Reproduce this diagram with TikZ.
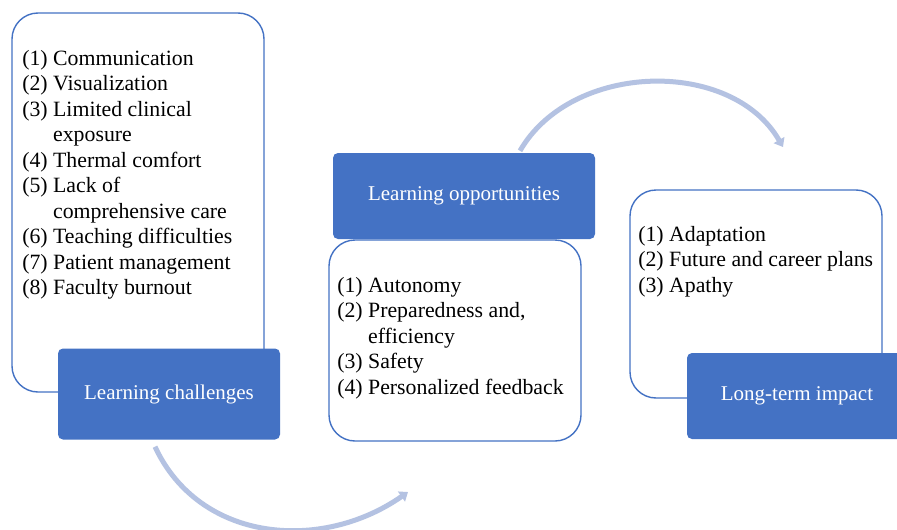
\documentclass[tikz,border=0pt]{standalone}
\usepackage{fontspec}
\setmainfont{Liberation Serif}
\usetikzlibrary{positioning,arrows.meta}
\definecolor{headBlue}{HTML}{4472C4}
\definecolor{cycleBlue}{HTML}{B4C2E2}
% hanging indent for wrapped list lines
\newcommand{\wrapline}{\phantom{(0)}\ }

\begin{document}
\begin{tikzpicture}[x=1pt, y=1pt,
    listbox/.style={draw=headBlue, line width=1.4pt, fill=white, rounded corners=26pt, minimum width=252pt},
    headbox/.style={fill=headBlue, rounded corners=5pt, text=white, minimum height=86pt, font=\fontsize{21}{25.5}\selectfont},
    items/.style={align=left, inner sep=0pt, outer sep=0pt, font=\fontsize{21.8}{25.5}\selectfont},
    cyclearrow/.style={cycleBlue, line width=5pt, -{Triangle[length=8pt,width=12pt]}}]
    \clip (0,0) rectangle (897,-530);
    \fill[white] (0,0) rectangle (897,-530);

    % outlined boxes
    \node[listbox, minimum height=379pt] (challengeBox) at (138,-202.5) {};
    \node[listbox, minimum height=201pt] (opportunityBox) at (455,-340.5) {};
    \node[listbox, minimum height=208pt] (impactBox) at (756,-294) {};

    % filled headings
    \node[headbox, minimum width=222pt, minimum height=91pt] (challengeHead) at (169,-394) {Learning challenges};
    \node[headbox, minimum width=262pt] (opportunityHead) at (464,-196) {Learning opportunities};
    \node[headbox, minimum width=220pt] (impactHead) at (797,-396) {Long-term impact};

    % lists
    \node[items, below right=38pt and 11pt of challengeBox.north west] (challengeItems) {%
        (1) Communication\\
        (2) Visualization\\
        (3) Limited clinical\\
        \wrapline exposure\\
        (4) Thermal comfort\\
        (5) Lack of\\
        \wrapline comprehensive care\\
        (6) Teaching difficulties\\
        (7) Patient management\\
        (8) Faculty burnout};
    \node[items, below right=38pt and 9pt of opportunityBox.north west] (opportunityItems) {%
        (1) Autonomy\\
        (2) Preparedness and,\\
        \wrapline efficiency\\
        (3) Safety\\
        (4) Personalized feedback};
    \node[items, below right=37pt and 9pt of impactBox.north west] (impactItems) {%
        (1) Adaptation\\
        (2) Future and career plans\\
        (3) Apathy};

    % cycle arrows
    \coordinate (toOpportunity) at (408,-492);
    \coordinate (toImpact) at (783,-147);
    \draw[cyclearrow] ([xshift=-14pt, yshift=-7pt]challengeHead.south) to[out=-65, in=215, looseness=1.05] (toOpportunity);
    \draw[cyclearrow] ([xshift=56pt, yshift=2pt]opportunityHead.north) to[out=60, in=120] (toImpact);
\end{tikzpicture}
\end{document}
